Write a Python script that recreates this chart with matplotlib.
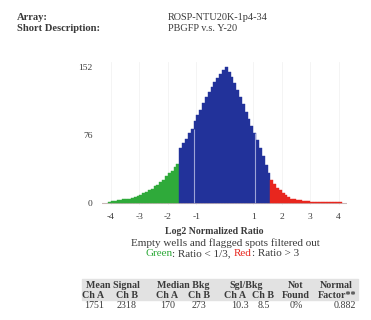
import numpy as np
import matplotlib.pyplot as plt

plt.rcParams['font.family'] = ['Liberation Serif', 'DejaVu Serif']
plt.rcParams['axes.unicode_minus'] = False

# histogram of log2 normalized ratio, bins 0.1 wide
bin_centers = np.round(np.arange(-4.05, 4.06, 0.1), 2)
counts = [1, 2, 2, 3, 3, 4, 4, 5, 6, 7,
          8, 9, 11, 12, 14, 16, 19, 20, 23, 26,
          30, 33, 36, 40, 44,
          62, 67, 71, 78, 83, 92, 98, 104, 112, 119,
          124, 130, 135, 140, 144, 149, 152, 146, 141, 134,
          126, 119, 111, 102, 94, 86, 78, 70, 61, 52,
          43, 34,
          26, 21, 17, 14, 11, 9, 7, 5, 4, 3,
          3, 2, 2, 2, 1, 1, 1, 1, 1, 1,
          1, 1, 1, 1, 1]
low_cut, high_cut = -1.6, 1.6

xticks = [-4, -3, -2, -1, 1, 2, 3, 4]
yticks = [0, 76, 152]

header_labels = ['Array:', 'Short Description:']
header_values = ['ROSP-NTU20K-1p4-34', 'PBGFP v.s. Y-20']

table_top = ['Mean Signal', 'Median Bkg', 'Sgl/Bkg', 'Not', 'Normal']
table_sub = ['Ch A', 'Ch B', 'Ch A', 'Ch B', 'Ch A', 'Ch B', 'Found', 'Factor**']
table_vals = ['1751', '2318', '170', '273', '10.3', '8.5', '0%', '0.882']

W, H = 371, 320
fig = plt.figure(figsize=(W / 100, H / 100), dpi=100)

def fx(px):
    return px / W

def fy(py):
    return 1 - py / H

txt = '#3a3a3a'

# header
for i, (lab, val) in enumerate(zip(header_labels, header_values)):
    y = fy(18 + i * 10.5)
    fig.text(fx(17), y, lab, fontsize=7.6, fontweight='bold', color=txt, va='center')
    fig.text(fx(168), y, val, fontsize=7.4, color=txt, va='center')

# chart
ax = fig.add_axes([0.276, 0.36, 0.66, 0.4475])
green, blue, red = '#2faa3a', '#22329a', '#e8261e'
colors = [green if c < low_cut else (red if c > high_cut else blue) for c in bin_centers]
ax.bar(bin_centers, counts, width=0.1, color=colors, edgecolor=colors, linewidth=0.3, zorder=2)
for t in xticks:
    ax.axvline(t, color='#f3f3f3', lw=0.6, zorder=1)
for t in [-1.1, 1.05]:
    i = int(np.argmin(np.abs(bin_centers - t)))
    ax.vlines(t, 0, counts[i], color='#9da3d6', lw=0.8, zorder=3)
ax.axhline(0, color='#c9b8b8', lw=0.8, zorder=1)
ax.set_xlim(-4.3, 4.3)
ax.set_ylim(-2, 158)
ax.set_xticks(xticks)
ax.set_yticks(yticks)
ax.tick_params(length=0, labelsize=6.8, labelcolor=txt, pad=7)
ax.tick_params(axis='x', pad=6)
for s in ax.spines.values():
    s.set_visible(False)

fig.text(fx(214), fy(231), 'Log2 Normalized Ratio', fontsize=7.1, fontweight='bold',
         color=txt, ha='center', va='center')
fig.text(fx(225), fy(243), 'Empty wells and flagged spots filtered out', fontsize=8,
         color=txt, ha='center', va='center')

# colored legend line, centred around x=222 px
parts = [('Green', green), (': Ratio < 1/3, ', txt), ('Red', red), (': Ratio > 3', txt)]
texts = [fig.text(0, fy(254), s, fontsize=8, color=c, va='center') for s, c in parts]
fig.canvas.draw()
r = fig.canvas.get_renderer()
widths = [t.get_window_extent(r).width for t in texts]
x = 222 - sum(widths) / 2
for t, w in zip(texts, widths):
    t.set_x(fx(x))
    x += w

# stats table
fig.patches.append(plt.Rectangle((fx(82), fy(300)), fx(358) - fx(82), fy(279) - fy(300),
                                 transform=fig.transFigure, color='#e2e2e2', zorder=0))
top_x = [113, 183, 246, 296, 336]
col_x = [93, 127, 167, 199, 235, 263, 296, 337]
for lab, x in zip(table_top, top_x):
    fig.text(fx(x), fy(286), lab, fontsize=7.2, fontweight='bold', color=txt,
             ha='center', va='center')
for lab, x in zip(table_sub, col_x):
    fig.text(fx(x), fy(295.5), lab, fontsize=7.2, fontweight='bold', color=txt,
             ha='center', va='center')
val_x = [94, 127, 168, 199, 240, 264, 296, 345]
for v, x in zip(table_vals, val_x):
    fig.text(fx(x), fy(305), v, fontsize=7.2, color=txt, ha='center', va='center')

fig.savefig('out.png', dpi=100)
